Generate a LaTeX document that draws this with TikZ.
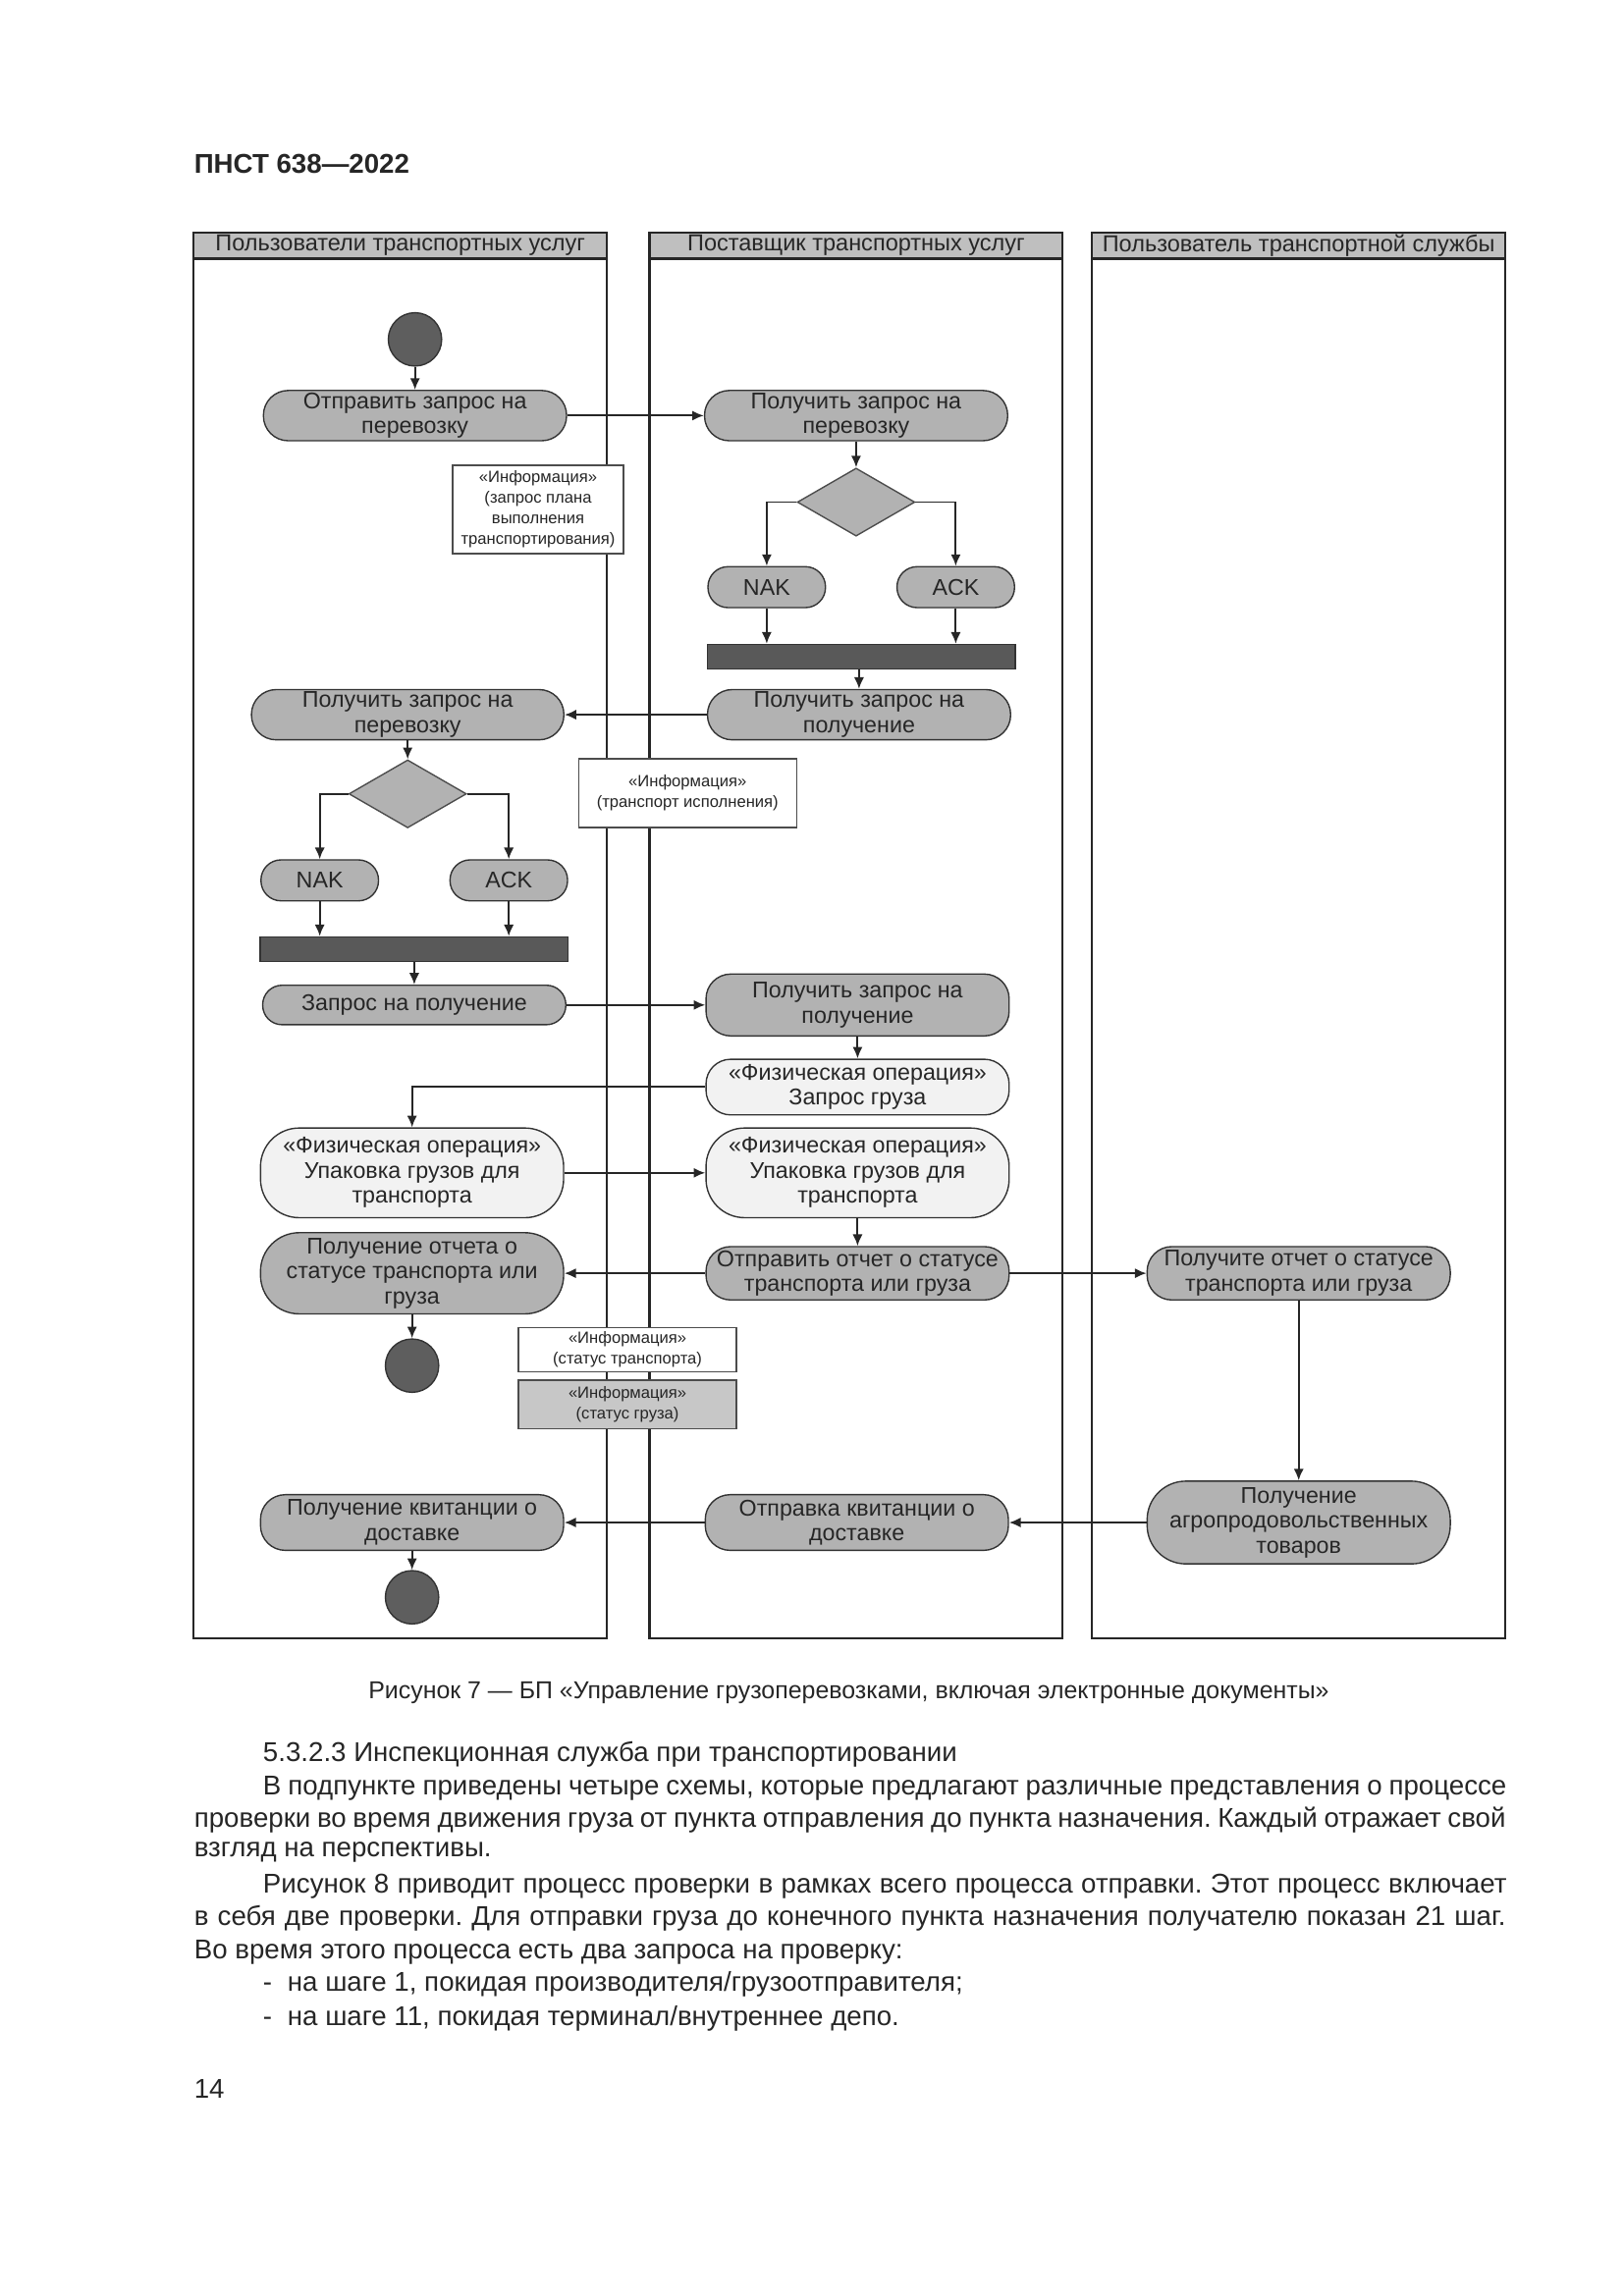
\documentclass[tikz,border=0pt]{standalone}
\usepackage{fontspec}
\setmainfont{Liberation Sans}
\usetikzlibrary{shapes,arrows.meta,calc}
\frenchspacing

\begin{document}
\begin{tikzpicture}[%
  x=0.18952mm,y=-0.18964mm,
  lane/.style={draw=black!85,line width=0.8pt},
  lanehead/.style={font=\fontsize{8.5}{9.5}\selectfont,text=black!85,inner sep=0pt},
  activity/.style={rectangle,draw=black!80,fill=black!30,line width=0.5pt,
    rounded corners=3.2mm,minimum width=39.2mm,minimum height=6.5mm,inner sep=0pt,
    align=center,text=black!85,font=\fontsize{8.4}{9.2}\selectfont},
  lightact/.style={activity,fill=black!5},
  answer/.style={activity,minimum width=15.2mm,minimum height=5.3mm,rounded corners=2.6mm},
  decision/.style={diamond,draw=black!70,fill=black!30,line width=0.5pt,
    minimum width=15.2mm,minimum height=8.8mm,inner sep=0pt},
  bar/.style={rectangle,draw=black!80,fill=black!65,line width=0.5pt,
    minimum width=39.8mm,minimum height=3.2mm,inner sep=0pt},
  startend/.style={circle,draw=black!80,fill=black!63,line width=0.5pt,minimum size=6.9mm,inner sep=0pt},
  info/.style={rectangle,draw=black!70,fill=white,line width=0.5pt,inner sep=0pt,
    align=center,text=black!85,font=\fontsize{6}{7.6}\selectfont},
  flow/.style={-{Latex[length=1.5mm,width=1.3mm]},draw=black!85,line width=0.7pt},
  bodytext/.style={anchor=west,inner sep=0pt,text=black!85,font=\fontsize{10}{12}\selectfont}]
    \useasboundingbox (0.82,0.51) rectangle (1108.9,1566.6);
    % Page head
    \node[anchor=west,inner sep=0pt,text=black!85,font=\bfseries\fontsize{10}{12}\selectfont]
      (title) at (133,112) {ПНСТ 638—2022};
    % Lanes
    \draw[lane] (133,159) rectangle (415,1118);
    \draw[lane,fill=black!25] (133,159) rectangle (415,177);
    \node[lanehead] (laneA) at (274,168) {Пользователи транспортных услуг};
    \draw[lane] (444,159) rectangle (726,1118);
    \draw[lane,fill=black!25] (444,159) rectangle (726,177);
    \node[lanehead] (laneB) at (585,168) {Поставщик транспортных услуг};
    \draw[lane] (746,159) rectangle (1028,1118);
    \draw[lane,fill=black!25] (746,159) rectangle (1028,177);
    \node[lanehead] (laneC) at (887,168) {Пользователь транспортной службы};
    % Transport request
    \node[startend] (start) at (284,232) {};
    \node[activity] (sendreq) at (284,284) {Отправить запрос на\\перевозку};
    \node[activity] (getreq) at (585,284) {Получить запрос на\\перевозку};
    \node[info,minimum width=22.1mm,minimum height=11.4mm] (info1) at (368,348)
      {«Информация»\\(запрос плана\\выполнения\\транспортирования)};
    \node[decision] (decA) at (585,343) {};
    \node[answer] (nakA) at (524,401) {NAK};
    \node[answer] (ackA) at (653,401) {ACK};
    \node[bar] (barA) at (588.5,448.5) {};
    \node[activity] (getrcvA) at (587,488) {Получить запрос на\\получение};
    % Answer of the users
    \node[activity,minimum width=40.4mm] (getreqB) at (279,488) {Получить запрос на\\перевозку};
    \node[info,minimum width=28.2mm,minimum height=8.9mm] (info2) at (470,541.5)
      {«Информация»\\(транспорт исполнения)};
    \node[decision] (decB) at (279,542) {};
    \node[answer] (nakB) at (219,601) {NAK};
    \node[answer] (ackB) at (348,601) {ACK};
    \node[bar] (barB) at (283.5,648) {};
    \node[activity,minimum height=5.1mm,rounded corners=2.5mm] (rcvreq) at (283.5,686) {Запрос на получение};
    \node[activity,minimum height=8mm] (getrcvB) at (586,686) {Получить запрос на\\получение};
    % Physical operations
    \node[lightact,minimum height=7.2mm] (cargoreq) at (586,742) {«Физическая операция»\\Запрос груза};
    \node[lightact,minimum height=11.6mm,rounded corners=5mm] (packA) at (282,800.5)
      {«Физическая операция»\\Упаковка грузов для\\транспорта};
    \node[lightact,minimum height=11.6mm,rounded corners=5mm] (packB) at (586,800.5)
      {«Физическая операция»\\Упаковка грузов для\\транспорта};
    % Status report
    \node[activity,minimum height=6.9mm] (sendrep) at (586,869) {Отправить отчет о статусе\\транспорта или груза};
    \node[activity,minimum height=10.5mm,rounded corners=5mm] (getrep) at (282,869)
      {Получение отчета о\\статусе транспорта или\\груза};
    \node[activity,minimum height=6.9mm] (svcrep) at (887,869) {Получите отчет о статусе\\транспорта или груза};
    \node[startend] (endA) at (282,932) {};
    \node[info,minimum width=28.2mm,minimum height=5.7mm] (info3) at (429,921)
      {«Информация»\\(статус транспорта)};
    \node[info,fill=black!22,minimum width=28.2mm,minimum height=6.3mm] (info4) at (429,958.5)
      {«Информация»\\(статус груза)};
    % Delivery receipt
    \node[activity,minimum height=10.7mm,rounded corners=5mm] (agro) at (887,1039)
      {Получение\\агропродовольственных\\товаров};
    \node[activity,minimum height=7.2mm] (sendack) at (585.5,1039) {Отправка квитанции о\\доставке};
    \node[activity,minimum height=7.2mm] (getack) at (282,1039) {Получение квитанции о\\доставке};
    \node[startend] (endB) at (282,1090) {};
    % Connectors
    \draw[flow] (start) -- (sendreq);
    \draw[flow] (sendreq) -- (getreq);
    \draw[flow] (getreq) -- (decA);
    \draw[flow] (decA.west) -| (nakA);
    \draw[flow] (decA.east) -| (ackA);
    \draw[flow] (nakA) -- (nakA |- barA.north);
    \draw[flow] (ackA) -- (ackA |- barA.north);
    \draw[flow] (getrcvA |- barA.south) -- (getrcvA);
    \draw[flow] (getrcvA) -- (getreqB);
    \draw[flow] (getreqB) -- (decB);
    \draw[flow] (decB.west) -| (nakB);
    \draw[flow] (decB.east) -| (ackB);
    \draw[flow] (nakB) -- (nakB |- barB.north);
    \draw[flow] (ackB) -- (ackB |- barB.north);
    \draw[flow] (rcvreq |- barB.south) -- (rcvreq);
    \draw[flow] (rcvreq) -- (getrcvB);
    \draw[flow] (getrcvB) -- (cargoreq);
    \draw[flow] (cargoreq.west) -| (packA);
    \draw[flow] (packA) -- (packB);
    \draw[flow] (packB) -- (sendrep);
    \draw[flow] (sendrep) -- (getrep);
    \draw[flow] (sendrep) -- (svcrep);
    \draw[flow] (getrep) -- (endA);
    \draw[flow] (svcrep) -- (agro);
    \draw[flow] (agro) -- (sendack);
    \draw[flow] (sendack) -- (getack);
    \draw[flow] (getack) -- (endB);
    % Caption and text
    \node[inner sep=0pt,text=black!85,font=\fontsize{9}{11}\selectfont] (caption) at (580,1155)
      {Рисунок 7 — БП «Управление грузоперевозками, включая электронные документы»};
    \node[bodytext] (lineA) at (180,1197) {5.3.2.3 Инспекционная служба при транспортировании};
    \node[bodytext] (lineB) at (180,1220) {\makebox[160.8mm][s]{В подпункте приведены четыре схемы, которые предлагают различные представления о процессе}};
    \node[bodytext] (lineC) at (133,1242) {\makebox[169.6mm][s]{проверки во время движения груза от пункта отправления до пункта назначения. Каждый отражает свой}};
    \node[bodytext] (lineD) at (133,1264) {взгляд на перспективы.};
    \node[bodytext] (lineE) at (180,1287) {\makebox[160.8mm][s]{Рисунок 8 приводит процесс проверки в рамках всего процесса отправки. Этот процесс включает}};
    \node[bodytext] (lineF) at (133,1309) {\makebox[169.6mm][s]{в себя две проверки. Для отправки груза до конечного пункта назначения получателю показан 21 шаг.}};
    \node[bodytext] (lineG) at (133,1332) {Во время этого процесса есть два запроса на проверку:};
    \node[bodytext] (lineH) at (180,1354) {-\hspace{2mm}на шаге 1, покидая производителя/грузоотправителя;};
    \node[bodytext] (lineI) at (180,1377) {-\hspace{2mm}на шаге 11, покидая терминал/внутреннее депо.};
    \node[bodytext] (page) at (133,1425) {14};
\end{tikzpicture}
\end{document}
